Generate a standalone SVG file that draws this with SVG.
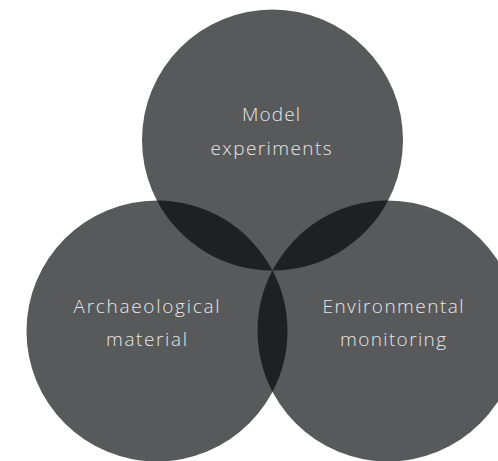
<svg xmlns="http://www.w3.org/2000/svg" width="498" height="461" viewBox="0 0 498 461">
<style>
.c{fill:#58595b}
.o{fill:#1f2022}
.t{font-family:"Open Sans","Liberation Sans",Arial,sans-serif;font-weight:300;font-size:19px;fill:#e6e6e6;text-anchor:middle}
</style>
<rect width="498" height="461" fill="#ffffff"/>
<g id="node-model">
<circle class="c" cx="272.5" cy="140" r="130.5"/>
</g>
<g id="node-archaeological">
<circle class="c" cx="157" cy="331" r="130.5"/>
</g>
<g id="node-environmental">
<circle class="c" cx="388" cy="331" r="130.5"/>
</g>
<g id="overlaps">
<path class="o" d="M156.9,200.5 A130.5,130.5 0 0 0 272.5,270.5 A130.5,130.5 0 0 0 156.9,200.5 Z"/>
<path class="o" d="M388.1,200.5 A130.5,130.5 0 0 1 272.5,270.5 A130.5,130.5 0 0 1 388.1,200.5 Z"/>
<path class="o" d="M272.5,270.3 A130.5,130.5 0 0 1 272.5,391.7 A130.5,130.5 0 0 1 272.5,270.3 Z"/>
</g>
<g id="labels">
<text class="t" x="271" y="121" textLength="58" lengthAdjust="spacing">Model</text>
<text class="t" x="271" y="155" textLength="121" lengthAdjust="spacing">experiments</text>
<text class="t" x="146.5" y="313" textLength="146" lengthAdjust="spacing">Archaeological</text>
<text class="t" x="146.5" y="346" textLength="81" lengthAdjust="spacing">material</text>
<text class="t" x="393" y="313" textLength="141" lengthAdjust="spacing">Environmental</text>
<text class="t" x="393" y="346" textLength="106" lengthAdjust="spacing">monitoring</text>
</g>
</svg>
